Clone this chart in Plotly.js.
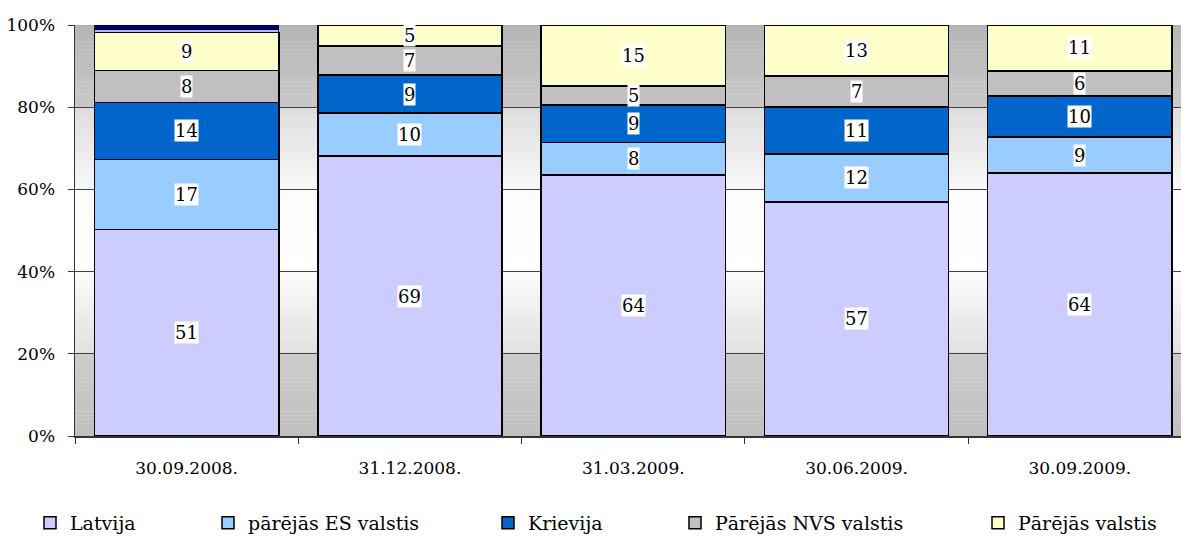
<!DOCTYPE html>
<html>
<head>
<meta charset="utf-8">
<script src="https://cdn.plot.ly/plotly-3.0.1.min.js"></script>
<style>
html,body{margin:0;padding:0;background:#fff;}
#chart{width:1181px;height:536px;}
</style>
</head>
<body>
<div id="chart"></div>
<script>
// ---- data ----
const categories = ['30.09.2008.', '31.12.2008.', '31.03.2009.', '30.06.2009.', '30.09.2009.'];
const seriesNames = ['Latvija', 'pārējās ES valstis', 'Krievija', 'Pārējās NVS valstis', 'Pārējās valstis'];
const latvija  = [50.1, 68.1, 63.5, 56.9, 64.0];
const esValstis = [17.1, 10.5, 7.8, 11.7, 8.8];
const krievija = [13.8, 9.2, 9.2, 11.4, 10.0];
const nvsValstis = [7.8, 7.1, 4.6, 7.5, 6.1];
const parejasValstis = [9.2, 5.1, 14.8, 12.4, 11.2];
const citiA = [0.6, 0, 0, 0, 0];
const citiB = [1.2, 0, 0, 0, 0];
// shown data labels
const labelsLatvija = ['51', '69', '64', '57', '64'];
const labelsES = ['17', '10', '8', '12', '9'];
const labelsKrievija = ['14', '9', '9', '11', '10'];
const labelsNVS = ['8', '7', '5', '7', '6'];
const labelsParejas = ['9', '5', '15', '13', '11'];

// ---- style ----
const colors = ['#CCCCFF', '#99CCFF', '#0066CC', '#C0C0C0', '#FFFFCC'];
const extraColors = ['#B8B8E8', '#000080'];
const FONT = 'DejaVu Serif';

const mainSeries = [latvija, esValstis, krievija, nvsValstis, parejasValstis];
const labelSets = [labelsLatvija, labelsES, labelsKrievija, labelsNVS, labelsParejas];
const legendIds = ['legend', 'legend2', 'legend3', 'legend4', 'legend5'];

const traces = mainSeries.map((vals, i) => ({
  type: 'bar', x: categories, y: vals, name: seriesNames[i],
  marker: {color: colors[i], line: {color: '#000', width: 1.5}},
  legend: legendIds[i], hoverinfo: 'none'
}));
[citiA, citiB].forEach((vals, i) => traces.push({
  type: 'bar', x: categories, y: vals, name: 'citi' + i, showlegend: false,
  marker: {color: extraColors[i], line: {color: '#000', width: 0.8}}, hoverinfo: 'none'
}));

const allSeries = mainSeries.concat([citiA, citiB]);
const totals = categories.map((_, j) => allSeries.reduce((s, a) => s + a[j], 0));

const annotations = [];
categories.forEach((c, j) => {
  let cum = 0;
  mainSeries.forEach((vals, i) => {
    const mid = (cum + vals[j] / 2) / totals[j] * 100;
    cum += vals[j];
    annotations.push({
      x: c, y: mid, xref: 'x', yref: 'y', text: labelSets[i][j], showarrow: false,
      font: {family: FONT, size: 18, color: '#000'}, bgcolor: '#ffffff', borderpad: 0
    });
  });
});

const bands = [
  [80, 100, [0xc8, 0xc8, 0xc8], [0xb6, 0xb6, 0xb6]],
  [60, 80, [0xf8, 0xf8, 0xf8], [0xdc, 0xdc, 0xdc]],
  [40, 60, [0xff, 0xff, 0xff], [0xfc, 0xfc, 0xfc]],
  [20, 40, [0xe0, 0xe0, 0xe0], [0xfb, 0xfb, 0xfb]],
  [0, 20, [0xbf, 0xbf, 0xbf], [0xcc, 0xcc, 0xcc]]
];
const shapes = [];
const N = 20;
bands.forEach(([lo, hi, cLo, cHi]) => {
  for (let k = 0; k < N; k++) {
    const t = (k + 0.5) / N;
    const col = cLo.map((v, m) => Math.round(v + (cHi[m] - v) * t));
    shapes.push({type: 'rect', xref: 'paper', yref: 'y', x0: 0, x1: 1,
      y0: lo + (hi - lo) * k / N, y1: lo + (hi - lo) * (k + 1) / N + 0.05,
      fillcolor: 'rgb(' + col.join(',') + ')', line: {width: 0}, layer: 'below'});
  }
});
shapes.push({type: 'line', xref: 'paper', yref: 'y', x0: 0, x1: 1, y0: 100, y1: 100,
  line: {color: '#a0a0a0', width: 1}, layer: 'below'});

const legendX = [30, 208, 488, 675, 978];
const legendBase = {orientation: 'h', yanchor: 'middle', xanchor: 'left', y: -0.2117,
  font: {family: FONT, size: 19, color: '#000'}, bgcolor: 'rgba(0,0,0,0)', itemwidth: 30};
const layout = {
  width: 1181, height: 536,
  font: {family: FONT, color: '#000'},
  margin: {l: 75, r: 0, t: 25, b: 100, autoexpand: false},
  paper_bgcolor: '#ffffff', plot_bgcolor: '#ffffff',
  barmode: 'stack', barnorm: 'percent', bargap: 0.175,
  showlegend: true,
  xaxis: {type: 'category', range: [-0.5, 4.453], tickson: 'boundaries', ticks: 'outside',
    ticklen: 6, tickcolor: '#333', showline: true, linecolor: '#333', linewidth: 1.5,
    showgrid: false, tickfont: {family: FONT, size: 17, color: '#000'}, ticklabelstandoff: 16,
    fixedrange: true, automargin: false},
  yaxis: {range: [0, 100], dtick: 20, ticksuffix: '%', ticks: 'outside', ticklen: 6,
    tickcolor: '#333', showline: true, linecolor: '#333', linewidth: 1.5,
    showgrid: true, gridcolor: '#404040', gridwidth: 1, zeroline: false,
    tickfont: {family: FONT, size: 17, color: '#000'}, ticklabelstandoff: 9, fixedrange: true,
    automargin: false},
  annotations: annotations,
  shapes: shapes
};
legendIds.forEach((id, i) => {
  layout[id] = Object.assign({}, legendBase, {x: (legendX[i] - 75) / 1106});
});

Plotly.newPlot('chart', traces, layout, {displayModeBar: false, staticPlot: true});
</script>
</body>
</html>
